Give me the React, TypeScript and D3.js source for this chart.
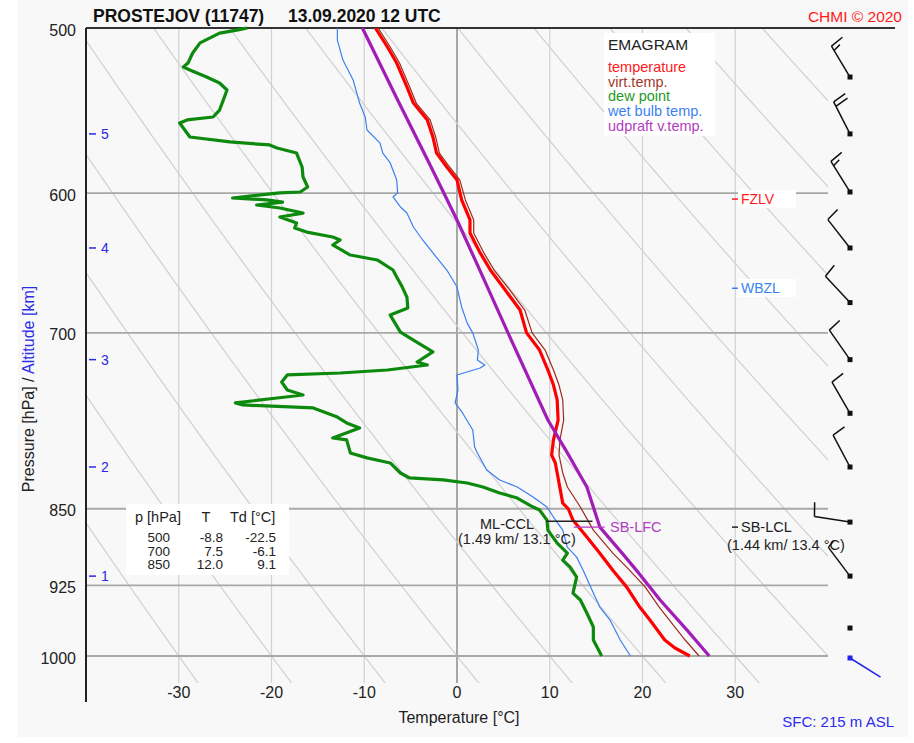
import { useEffect, useRef } from "react";
import * as d3 from "d3";

// profiles: [pressure hPa, temperature °C]
const temperature: [number, number][] = [
  [500, -8.8], [510.6, -7.5], [519.7, -6.5], [533.6, -5.4], [543.2, -4.7], [553.4, -3.2],
  [563.9, -2.6], [574, -2.2], [582.9, -1.1], [591.3, 0], [604.5, 0.5], [618, 1.4], [627, 1.4],
  [640.9, 2.5], [653.1, 3.6], [667.7, 5.2], [682.6, 6.8], [700, 7.5], [713.4, 8.9], [729.3, 9.8],
  [741.5, 10.4], [753.8, 10.8], [770.7, 10.9], [787.8, 10.4], [801, 10.2], [808.1, 10.6],
  [817.1, 10.8], [844.7, 11.4], [850, 12.0], [860.7, 12.5], [877, 14.0], [892.7, 15.4],
  [909.6, 16.8], [926.8, 18.3], [947.4, 19.7], [961.1, 20.8], [982.5, 22.4], [991.2, 23.5],
  [995.6, 24.3], [1000, 25.1],
];

const virtTemp: [number, number][] = [
  [500, -8.5], [510.6, -7.2], [519.7, -6.2], [533.6, -5.1], [543.2, -4.4], [553.4, -2.9],
  [563.9, -2.3], [574, -1.9], [582.9, -0.8], [591.3, 0.3], [604.5, 0.9], [618, 1.8], [627, 1.8],
  [640.9, 2.9], [653.1, 4.0], [667.7, 5.7], [682.6, 7.3], [700, 8.1], [713.4, 9.5], [729.3, 10.4],
  [741.5, 11.0], [753.8, 11.4], [770.7, 11.5], [787.8, 11.1], [801, 11.0], [817.1, 11.4],
  [829.8, 11.9], [848.4, 13.3], [870.3, 14.7], [892.7, 16.8], [909.6, 18.6], [926.8, 20.3],
  [947.4, 21.8], [961.1, 22.9], [982.5, 24.6], [1000, 26.1],
];

const dewPoint: [number, number][] = [
  [500, -22.6], [501, -23.6], [502.8, -25.6], [508.3, -27.7], [514, -28.5], [519.7, -29.0],
  [522, -29.5], [523.7, -28.8], [527.8, -27.0], [531.3, -25.6], [535.4, -24.8], [541.4, -25.2],
  [547.4, -25.6], [551.6, -26.3], [553.4, -29.1], [555.3, -29.9], [563.9, -28.8], [567, -24.5],
  [568.9, -20.2], [570.8, -19.4], [574, -17.3], [582.9, -16.7], [589.4, -16.6], [595.9, -16.1],
  [599.2, -16.9], [599.8, -19.1], [603.2, -24.2], [604.5, -20.5], [605.9, -18.8], [607.9, -21.6],
  [609.9, -19.1], [613.3, -16.6], [616, -19.1], [620.1, -17.3], [623.5, -17.5], [626.3, -16.2],
  [629.7, -13.4], [631.8, -12.6], [635.3, -13.4], [642.4, -11.5], [645.9, -8.6], [653.1, -6.9],
  [658.1, -6.5], [665.5, -5.9], [672.9, -5.4], [681.1, -5.3], [686.4, -7.2], [699.4, -6.1],
  [705.6, -4.7], [714.9, -2.6], [722.9, -4.3], [725.3, -3.2], [729.3, -7.5], [731.7, -12.6],
  [733.3, -18.3], [739, -18.9], [745.6, -18.3], [749.7, -16.6], [752.2, -19.4], [756.3, -23.9],
  [758, -23.1], [760.5, -15.5], [768.2, -12.9], [773.2, -11.9], [777.5, -10.5], [786.1, -13.4],
  [787.8, -11.9], [799.2, -11.5], [803.6, -9.7], [808.1, -7.2], [817.1, -6.1], [821.6, -5.1],
  [823.4, -1.5], [826.2, 1.1], [829.8, 2.8], [835.3, 4.6], [840, 6.5], [848.4, 8.2], [851.2, 8.9],
  [860.7, 9.7], [870.3, 9.8], [882.8, 10.8], [892.7, 11.9], [899.6, 11.4], [906.6, 12.2],
  [916.6, 12.9], [932.9, 12.5], [940.1, 13.3], [953.7, 14.0], [968.5, 14.7], [982.5, 14.7],
  [1000, 15.6],
];

const wetBulb: [number, number][] = [
  [500, -12.9], [506.7, -12.9], [518, -12.3], [529.5, -11.2], [543.2, -10.5], [551.6, -9.9],
  [559.6, -9.7], [567.7, -8.3], [574, -8.0], [580.3, -7.2], [591.3, -6.5], [599.8, -6.4],
  [602.5, -6.9], [609.2, -6.1], [613.3, -5.4], [622.8, -4.7], [631.8, -3.7], [640.9, -2.6],
  [653.1, -1.1], [665.5, 0], [680.3, 0.5], [692.5, 1.1], [700, 1.7], [713.4, 2.3], [721.3, 2.2],
  [725.3, 3.0], [727.7, 2.5], [733.3, 0], [745.6, 0.1], [756.3, -0.2], [764.7, 0.6], [779.2, 1.7],
  [794, 1.9], [799.2, 2.2], [814.4, 3.2], [823.4, 4.6], [829.8, 6.5], [839.1, 8.2], [848.4, 9.7],
  [857.8, 10.4], [870.3, 11.4], [886.7, 11.9], [896.6, 12.9], [909.6, 13.6], [932.9, 14.7],
  [947.4, 15.4], [961.1, 16.5], [982.5, 17.6], [1000, 18.7],
];

const updraft: [number, number][] = [
  [500, -10.2], [541.4, -6.4], [581.6, -2.9], [618, 0], [650.9, 2.3], [700, 5.5], [770.7, 9.8],
  [799.2, 11.9], [829.8, 14.0], [867.4, 15.4], [892.7, 17.8], [912.6, 19.6], [940.1, 21.9],
  [971.8, 24.8], [1000, 27.2],
];

const pressureTicks = [500, 600, 700, 850, 925, 1000];
const tempTicks = [-30, -20, -10, 0, 10, 20, 30];
const altitudeKm = [1, 2, 3, 4, 5];
const altitudeP = [915.6, 811.7, 721, 637.4, 562];

// wind every 0.5 km, last one is the surface
const windP = [527.8, 562, 599.2, 637.4, 677, 721, 765, 811.7, 862.6, 915.6, 969.6, 1002.2];
const windDir = [329, 333, 328, 322, 317, 325, 330, 332, 279, 323, 0, 122];
const windSpd = [15, 20, 15, 10, 10, 10, 10, 10, 10, 5, 0, 5];

const tableHead = ["p [hPa]", "T", "Td [°C]"];
const tableP = ["500", "700", "850"];
const tableT = ["-8.8", "7.5", "12.0"];
const tableTd = ["-22.5", "-6.1", "9.1"];

const legendNames = ["temperature", "virt.temp.", "dew point", "wet bulb temp.", "udpraft v.temp."];
const legendColors = ["#ff1a1a", "#a33a2a", "#1f9a1f", "#3b82f0", "#b23cc0"];

const FONT = "'Liberation Sans', Arial, sans-serif";

function Emagram() {
  const ref = useRef<SVGSVGElement>(null);

  useEffect(() => {
    const W = 914, H = 743;
    const left = 86, right = 828, top = 28, gridBottom = 683;
    const x = d3.scaleLinear().domain([-40, 40]).range([left, right]);
    const y = d3.scaleLog().domain([500, 1000]).range([top, 656]);

    const svg = d3.select(ref.current);
    svg.selectAll("*").remove();
    svg.attr("width", W).attr("height", H).style("font-family", FONT);

    svg.append("rect").attr("width", W).attr("height", H).attr("fill", "#fff");
    svg.append("rect").attr("x", 18).attr("y", 0).attr("width", 890).attr("height", 737).attr("fill", "#f8f8f8");

    svg.append("defs").append("clipPath").attr("id", "plotclip")
      .append("rect").attr("x", left).attr("y", top).attr("width", right - left).attr("height", gridBottom - top);

    // isotherms
    tempTicks.forEach((t) => {
      svg.append("line")
        .attr("x1", x(t)).attr("x2", x(t)).attr("y1", top).attr("y2", gridBottom)
        .attr("stroke", t === 0 ? "#8c8c8c" : "#d2d2d2")
        .attr("stroke-width", t === 0 ? 1.5 : 1.2);
    });

    // dry adiabats
    const ad = svg.append("g").attr("clip-path", "url(#plotclip)");
    const pLevels = d3.range(480, 1045, 5);
    d3.range(-30, 121, 10).forEach((th) => {
      const line = d3.line<number>()
        .x((p) => x((th + 273.15) * Math.pow(p / 1000, 0.286) - 273.15))
        .y((p) => y(p));
      ad.append("path").datum(pLevels).attr("d", line)
        .attr("fill", "none").attr("stroke", "#d0d0d0").attr("stroke-width", 1.2);
    });

    // isobars
    pressureTicks.filter((p) => p !== 500).forEach((p) => {
      svg.append("line")
        .attr("x1", left).attr("x2", right).attr("y1", y(p)).attr("y2", y(p))
        .attr("stroke", "#a8a8a8").attr("stroke-width", 1.8);
    });

    // frame
    svg.append("line").attr("x1", left).attr("x2", 895).attr("y1", top).attr("y2", top)
      .attr("stroke", "#333").attr("stroke-width", 2);
    svg.append("line").attr("x1", left).attr("x2", left).attr("y1", top).attr("y2", 702)
      .attr("stroke", "#222").attr("stroke-width", 2);

    // pressure labels
    pressureTicks.forEach((p) => {
      svg.append("text").attr("x", 76).attr("y", y(p) + 2).attr("dy", "0.35em")
        .attr("text-anchor", "end").attr("font-size", 16).attr("fill", "#222").text(p);
    });

    // temperature labels
    tempTicks.forEach((t) => {
      svg.append("text").attr("x", x(t)).attr("y", 698).attr("text-anchor", "middle")
        .attr("font-size", 16).attr("fill", "#222").text(t);
    });

    // altitude
    altitudeKm.forEach((k, i) => {
      const yy = y(altitudeP[i]);
      svg.append("line").attr("x1", 89).attr("x2", 96).attr("y1", yy).attr("y2", yy)
        .attr("stroke", "#2929e6").attr("stroke-width", 1.5);
      svg.append("text").attr("x", 101).attr("y", yy).attr("dy", "0.38em")
        .attr("font-size", 14).attr("fill", "#2929e6").text(k);
    });

    // axis titles
    const yl = svg.append("text").attr("transform", "translate(34,389) rotate(-90)")
      .attr("text-anchor", "middle").attr("font-size", 16);
    yl.append("tspan").attr("fill", "#222").text("Pressure [hPa]  /  ");
    yl.append("tspan").attr("fill", "#2b2be8").text("Altitude [km]");

    svg.append("text").attr("x", 459).attr("y", 723).attr("text-anchor", "middle")
      .attr("font-size", 16).attr("fill", "#222").text("Temperature [°C]");

    svg.append("text").attr("x", 93).attr("y", 22).attr("font-size", 17.5).attr("font-weight", "bold")
      .attr("fill", "#111").text("PROSTEJOV (11747)");
    svg.append("text").attr("x", 288).attr("y", 22).attr("font-size", 17.5).attr("font-weight", "bold")
      .attr("fill", "#111").text("13.09.2020 12 UTC");
    svg.append("text").attr("x", 902).attr("y", 22).attr("text-anchor", "end").attr("font-size", 15.5)
      .attr("fill", "#ff1a1a").text("CHMI © 2020");
    svg.append("text").attr("x", 894).attr("y", 727).attr("text-anchor", "end").attr("font-size", 15)
      .attr("fill", "#2b2bf0").text("SFC: 215 m ASL");

    // white boxes
    svg.append("rect").attr("x", 604).attr("y", 33).attr("width", 111).attr("height", 103).attr("fill", "#fff");
    svg.append("rect").attr("x", 126).attr("y", 504).attr("width", 163).attr("height", 71).attr("fill", "#fff");
    svg.append("rect").attr("x", 738).attr("y", 190).attr("width", 58).attr("height", 18).attr("fill", "#fff");
    svg.append("rect").attr("x", 738).attr("y", 279).attr("width", 58).attr("height", 18).attr("fill", "#fff");

    // profiles
    const prof = d3.line<[number, number]>().x((d) => x(d[1])).y((d) => y(d[0]));
    const drawProfile = (data: [number, number][], color: string, w: number) =>
      svg.append("path").datum(data).attr("d", prof).attr("fill", "none")
        .attr("stroke", color).attr("stroke-width", w).attr("stroke-linejoin", "round");
    drawProfile(wetBulb, "#3b7ff0", 1.2);
    drawProfile(dewPoint, "#0d8a0d", 3.2);
    drawProfile(temperature, "#ff0000", 3.2);
    drawProfile(virtTemp, "#9e2a1c", 1.2);
    drawProfile(updraft, "#a21cb8", 3.2);

    // level markers
    const pFz = 603.9, pWb = 666.4, pCcl = 861.8, pLfc = 867.4;
    svg.append("line").attr("x1", 732).attr("x2", 738).attr("y1", y(pFz)).attr("y2", y(pFz))
      .attr("stroke", "#ff1a1a").attr("stroke-width", 1.5);
    svg.append("text").attr("x", 741).attr("y", y(pFz)).attr("dy", "0.36em").attr("font-size", 14)
      .attr("fill", "#ff1a1a").text("FZLV");
    svg.append("line").attr("x1", 732).attr("x2", 738).attr("y1", y(pWb)).attr("y2", y(pWb))
      .attr("stroke", "#3b82f0").attr("stroke-width", 1.5);
    svg.append("text").attr("x", 741).attr("y", y(pWb)).attr("dy", "0.36em").attr("font-size", 14)
      .attr("fill", "#3b82f0").text("WBZL");

    svg.append("line").attr("x1", x(9.6)).attr("x2", x(14.6)).attr("y1", y(pCcl)).attr("y2", y(pCcl))
      .attr("stroke", "#222").attr("stroke-width", 1.3);
    svg.append("text").attr("x", 480).attr("y", 529).attr("font-size", 14.5).attr("fill", "#222").text("ML-CCL");
    svg.append("text").attr("x", 458).attr("y", 544).attr("font-size", 14.5).attr("fill", "#222").text("(1.49 km/ 13.1 °C)");

    svg.append("line").attr("x1", x(12.6)).attr("x2", x(15.9)).attr("y1", y(pLfc)).attr("y2", y(pLfc))
      .attr("stroke", "#b23cc0").attr("stroke-width", 1.3);
    svg.append("text").attr("x", 610).attr("y", y(pLfc)).attr("dy", "0.36em").attr("font-size", 14.5)
      .attr("fill", "#b23cc0").text("SB-LFC");

    svg.append("line").attr("x1", 732).attr("x2", 738).attr("y1", y(pLfc)).attr("y2", y(pLfc))
      .attr("stroke", "#222").attr("stroke-width", 1.5);
    svg.append("text").attr("x", 741).attr("y", y(pLfc)).attr("dy", "0.36em").attr("font-size", 14.5)
      .attr("fill", "#222").text("SB-LCL");
    svg.append("text").attr("x", 727).attr("y", 550).attr("font-size", 14.5).attr("fill", "#222")
      .text("(1.44 km/ 13.4 °C)");

    // legend
    svg.append("text").attr("x", 608).attr("y", 50).attr("font-size", 15.5).attr("fill", "#222").text("EMAGRAM");
    legendNames.forEach((n, i) => {
      svg.append("text").attr("x", 608).attr("y", 72 + i * 14.7).attr("font-size", 14.5)
        .attr("fill", legendColors[i]).text(n);
    });

    // table
    const tf = 13.5;
    svg.append("text").attr("x", 135).attr("y", 522).attr("font-size", 14.5).attr("fill", "#222").text(tableHead[0]);
    svg.append("text").attr("x", 206).attr("y", 522).attr("text-anchor", "middle").attr("font-size", 14.5).attr("fill", "#222").text(tableHead[1]);
    svg.append("text").attr("x", 230).attr("y", 522).attr("font-size", 14.5).attr("fill", "#222").text(tableHead[2]);
    tableP.forEach((p, i) => {
      const yy = 542 + i * 13.5;
      svg.append("text").attr("x", 170).attr("y", yy).attr("text-anchor", "end").attr("font-size", tf).attr("fill", "#222").text(p);
      svg.append("text").attr("x", 223).attr("y", yy).attr("text-anchor", "end").attr("font-size", tf).attr("fill", "#222").text(tableT[i]);
      svg.append("text").attr("x", 276).attr("y", yy).attr("text-anchor", "end").attr("font-size", tf).attr("fill", "#222").text(tableTd[i]);
    });

    // wind barbs
    const wx = 850, staff = 36;
    windP.forEach((p, i) => {
      const y0 = y(p);
      const sfc = i === windP.length - 1;
      const col = sfc ? "#2222ee" : "#111";
      svg.append("rect").attr("x", wx - 2.5).attr("y", y0 - 2.5).attr("width", 5).attr("height", 5).attr("fill", col);
      if (windSpd[i] === 0) return;
      const a = (windDir[i] * Math.PI) / 180;
      const ux = Math.sin(a), uy = -Math.cos(a);
      const x1 = wx + ux * staff, y1 = y0 + uy * staff;
      svg.append("line").attr("x1", wx).attr("y1", y0).attr("x2", x1).attr("y2", y1)
        .attr("stroke", col).attr("stroke-width", 1.5);
      if (sfc) return;
      const bx = -uy, by = ux;
      let s = windSpd[i];
      let k = 0;
      while (s >= 5) {
        const len = s >= 10 ? 14 : 8;
        const sx = x1 - ux * k * 5, sy = y1 - uy * k * 5;
        svg.append("line").attr("x1", sx).attr("y1", sy)
          .attr("x2", sx + bx * len + ux * 2).attr("y2", sy + by * len + uy * 2)
          .attr("stroke", col).attr("stroke-width", 1.5);
        s -= s >= 10 ? 10 : 5;
        k++;
      }
    });
  }, []);

  return <svg ref={ref}></svg>;
}

export default function App() {
  return (
    <div style={{ position: "absolute", left: 0, top: 0 }}>
      <Emagram />
    </div>
  );
}
